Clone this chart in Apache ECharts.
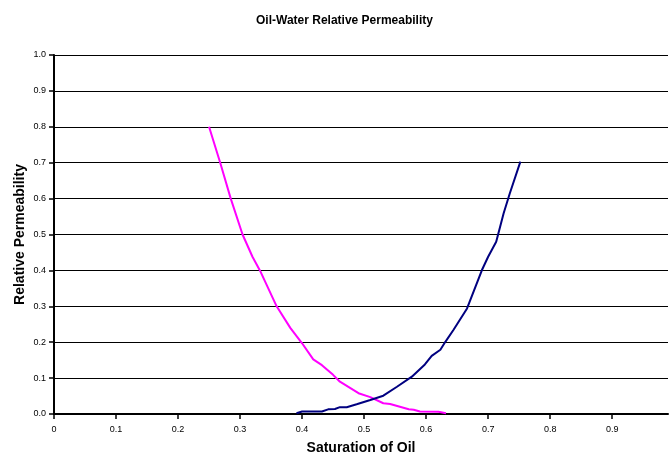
<!DOCTYPE html>
<html>
<head>
<meta charset="utf-8">
<script src="https://cdn.jsdelivr.net/npm/echarts@6/dist/echarts.min.js"></script>
<style>
html,body{margin:0;padding:0;background:#fff;}
#chart{width:670px;height:456px;}
</style>
</head>
<body>
<div id="chart"></div>
<script>
// Pink curve (decreasing)
const pinkSo = [0.25,0.268,0.285,0.304,0.320,0.332,0.359,0.381,0.400,0.418,0.432,0.450,0.461,0.491,0.510,0.531,0.542,0.572,0.580,0.590,0.620,0.632];
const pinkKr = [0.80,0.70,0.60,0.50,0.438,0.40,0.30,0.24,0.197,0.152,0.136,0.109,0.090,0.058,0.047,0.030,0.028,0.013,0.012,0.007,0.006,0.002];
// Navy curve (increasing)
const navySo = [0.391,0.400,0.432,0.442,0.453,0.461,0.472,0.488,0.510,0.531,0.553,0.577,0.598,0.609,0.623,0.631,0.644,0.666,0.690,0.700,0.713,0.725,0.735,0.752];
const navyKr = [0.002,0.007,0.007,0.013,0.014,0.019,0.019,0.027,0.039,0.051,0.076,0.104,0.138,0.162,0.179,0.201,0.234,0.294,0.401,0.438,0.480,0.559,0.615,0.703];
const xTicks = [0,0.1,0.2,0.3,0.4,0.5,0.6,0.7,0.8,0.9];

const pair = (xs, ys) => xs.map((x, i) => [x, ys[i]]);
const chart = echarts.init(document.getElementById('chart'));
const FONT = '"Liberation Sans", Arial, sans-serif';
chart.setOption({
  animation: false,
  backgroundColor: '#fff',
  title: {
    text: 'Oil-Water Relative Permeability',
    left: 251, top: 10,
    textStyle: {fontFamily: FONT, fontSize: 12, fontWeight: 'bold', color: '#000'}
  },
  grid: {left: 54, right: 2, top: 55, bottom: 42, containLabel: false, outerBoundsMode: 'none'},
  xAxis: {
    type: 'value', min: 0, max: 0.99,
    name: 'Saturation of Oil', nameLocation: 'middle', nameGap: 27,
    nameTextStyle: {fontFamily: FONT, fontSize: 14, fontWeight: 'bold', color: '#000'},
    axisLine: {show: true, onZero: false, lineStyle: {color: '#000', width: 2}},
    axisTick: {show: true, length: 5, lineStyle: {color: '#000', width: 1.5}, customValues: xTicks},
    axisLabel: {customValues: xTicks, fontFamily: FONT, fontSize: 9, color: '#000', margin: 11,
      formatter: v => v === 0 ? '0' : (+v).toFixed(1)},
    splitLine: {show: false}
  },
  yAxis: {
    type: 'value', min: 0, max: 1, interval: 0.1,
    name: 'Relative Permeability', nameLocation: 'middle', nameGap: 27, nameMoveOverlap: false,
    nameTextStyle: {fontFamily: FONT, fontSize: 14, fontWeight: 'bold', color: '#000'},
    axisLine: {show: true, lineStyle: {color: '#000', width: 2}},
    axisTick: {show: true, length: 5, lineStyle: {color: '#000', width: 1.5}},
    axisLabel: {fontFamily: FONT, fontSize: 9, color: '#000', margin: 8,
      formatter: v => (+v).toFixed(1)},
    splitLine: {show: true, lineStyle: {color: '#000', width: 1}}
  },
  series: [
    {type: 'line', data: pair(pinkSo, pinkKr), showSymbol: false, symbol: 'none',
      lineStyle: {color: '#FF00FF', width: 2}, itemStyle: {color: '#FF00FF'}},
    {type: 'line', data: pair(navySo, navyKr), showSymbol: false, symbol: 'none',
      lineStyle: {color: '#000080', width: 2}, itemStyle: {color: '#000080'}}
  ]
});
</script>
</body>
</html>
